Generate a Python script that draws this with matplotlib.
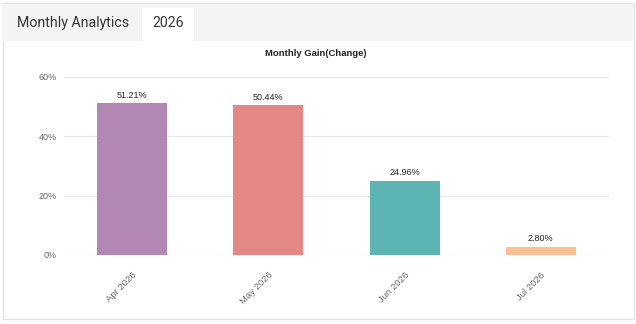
import matplotlib
matplotlib.use("Agg")
import matplotlib.pyplot as plt
from matplotlib.patches import Rectangle

# data
months = ["Apr 2026", "May 2026", "Jun 2026", "Jul 2026"]
gains = [51.21, 50.44, 24.96, 2.80]
colors = ["#b387b4", "#e48787", "#5cb5b3", "#fbbf93"]
yticks = [0, 20, 40, 60]

W, H = 636, 324
fig = plt.figure(figsize=(W / 100, H / 100), dpi=100)
fig.patch.set_facecolor("white")

def px(x, y, w, h):
    # pixel box (top-left origin) -> figure fraction
    return (x / W, 1 - (y + h) / H, w / W, h / H)

# card border and header band
x0, y0, w0, h0 = px(3, 3, 631, 316)
fig.add_artist(Rectangle((x0, y0), w0, h0, transform=fig.transFigure,
                         facecolor="white", edgecolor="#e3e3e3", lw=1, zorder=-3))
x0, y0, w0, h0 = px(3.5, 3.5, 630, 37)
fig.add_artist(Rectangle((x0, y0), w0, h0, transform=fig.transFigure,
                         facecolor="#f4f4f4", edgecolor="none", zorder=-2))
x0, y0, w0, h0 = px(142, 8, 52, 33)
fig.add_artist(Rectangle((x0, y0), w0, h0, transform=fig.transFigure,
                         facecolor="white", edgecolor="none", zorder=-1))
fig.text(17 / W, 1 - 23 / H, "Monthly Analytics", family="Roboto", fontsize=10.2,
         color="#333333", va="center", ha="left")
fig.text(168 / W, 1 - 23 / H, "2026", family="Roboto", fontsize=10.2,
         color="#333333", va="center", ha="center")

fig.text(316 / W, 1 - 53 / H, "Monthly Gain(Change)", family="Liberation Sans",
         fontsize=6.8, fontweight="bold", color="#222222", ha="center", va="center")

ax = fig.add_axes([64 / W, 1 - 255 / H, 545 / W, 178 / H])
pos = range(len(months))
bars = ax.bar(pos, gains, width=0.515, color=colors, zorder=2)
for b, v in zip(bars, gains):
    ax.text(b.get_x() + b.get_width() / 2, v + 1.2, f"{v:.2f}%",
            ha="center", va="bottom", fontsize=6.5, family="Liberation Sans",
            color="#222222")

ax.set_xlim(-0.5, len(months) - 0.5)
ax.set_ylim(0, 60)
ax.set_yticks(yticks)
ax.set_yticklabels([f"{t}%" for t in yticks])
ax.set_xticks(list(pos))
ax.set_xticklabels(months, rotation=45, ha="right", rotation_mode="anchor")
ax.tick_params(length=0, labelsize=6.5, colors="#666666")
ax.tick_params(axis="y", pad=5)
ax.tick_params(axis="x", pad=11, labelsize=6.8)
for lab in ax.get_xticklabels() + ax.get_yticklabels():
    lab.set_family("Liberation Sans")
ax.grid(axis="y", color="#e6e6e6", lw=0.8, zorder=0)
ax.set_axisbelow(True)
for s in ax.spines.values():
    s.set_visible(False)
ax.patch.set_alpha(0)

fig.savefig("out.png", dpi=100)
